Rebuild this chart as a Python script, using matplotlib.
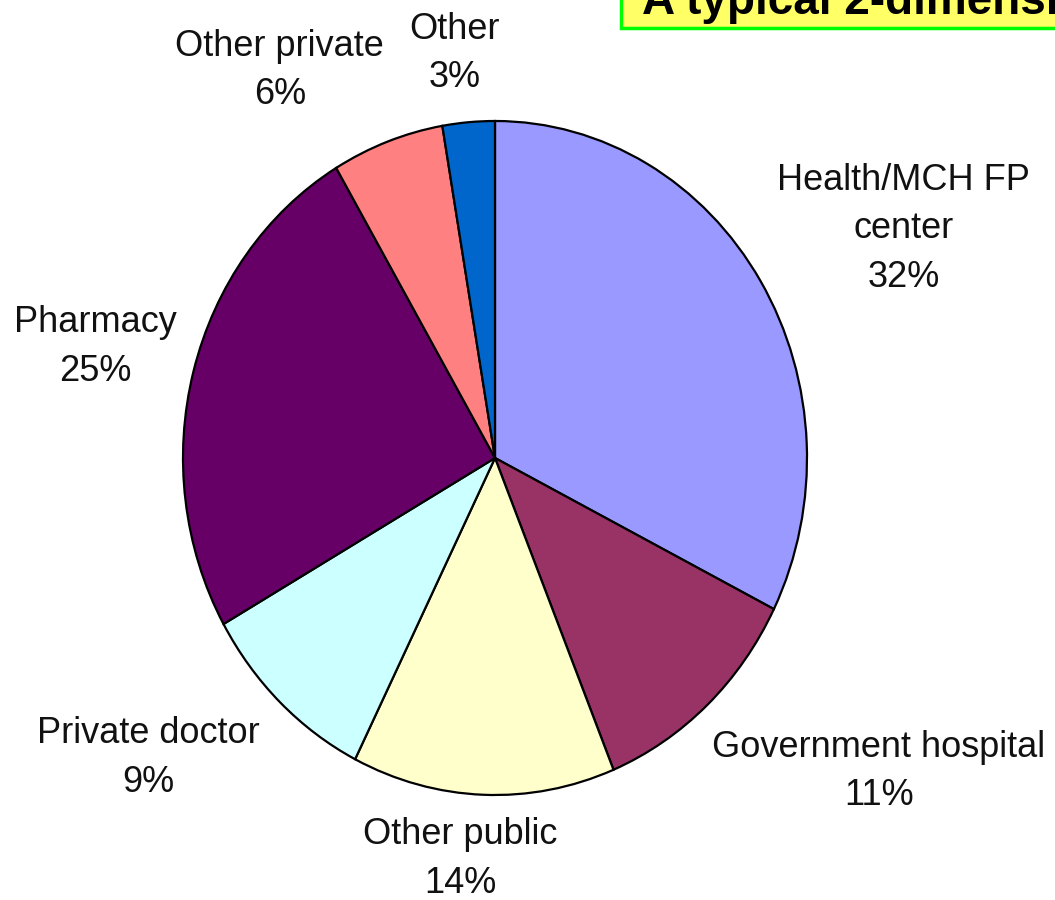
import matplotlib

matplotlib.use("Agg")
import matplotlib.pyplot as plt
from matplotlib.patches import Rectangle

# slice data, clockwise from 12 o'clock
categories = ["Health/MCH FP\ncenter", "Government hospital", "Other public",
              "Private doctor", "Pharmacy", "Other private", "Other"]
shares = [32.4, 11.4, 13.6, 9.4, 24.7, 5.8, 2.7]
pct_labels = ["32%", "11%", "14%", "9%", "25%", "6%", "3%"]
colors = ["#9999FF", "#993366", "#FFFFCC", "#CCFFFF", "#660066", "#FF8080", "#0066CC"]

# label anchor positions in pie-radius units (x, y)
label_pos = [(1.31, 0.68), (1.23, -0.93), (-0.11, -1.19), (-1.11, -0.89),
             (-1.28, 0.33), (-0.69, 1.15), (-0.13, 1.20)]

title = "A typical 2-dimensional pie chart"

plt.rcParams["font.family"] = ["Liberation Sans", "DejaVu Sans"]

fig = plt.figure(figsize=(10.55, 9.0), dpi=100)
ax = fig.add_axes([183 / 1055, 105 / 900, 624 / 1055, 674 / 900])

ax.pie(shares, colors=colors, startangle=90, counterclock=False,
       wedgeprops=dict(edgecolor="black", linewidth=1.6))
ax.set_aspect("auto")
ax.set_xlim(-1, 1)
ax.set_ylim(-1, 1)
ax.axis("off")

for cat, pct, (lx, ly) in zip(categories, pct_labels, label_pos):
    ax.text(lx, ly, f"{cat}\n{pct}", ha="center", va="center", fontsize=26,
            color="#111111", linespacing=1.5, clip_on=False)

# clipped title box in the top-right corner
fig.patches.append(Rectangle((621 / 1055, 872 / 900), 0.6, 0.2,
                             transform=fig.transFigure, facecolor="#FFFF66",
                             edgecolor="#00FF00", linewidth=2.5))
fig.text(642 / 1055, 886 / 900, title, ha="left", va="baseline",
         fontsize=33, fontweight="bold", color="black")

fig.savefig("out.png", dpi=100)
